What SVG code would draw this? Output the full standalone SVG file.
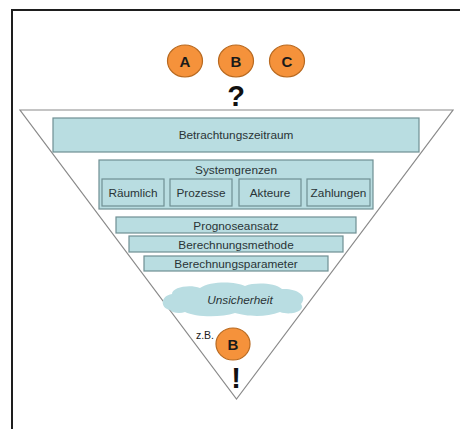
<svg xmlns="http://www.w3.org/2000/svg" width="460" height="429" viewBox="0 0 460 429">
  <style>
    text { font-family: "Liberation Sans", Arial, sans-serif; }
    .box { fill: #b9dde1; stroke: #6f8f93; stroke-width: 1.2; }
    .lbl { font-size: 11.8px; fill: #2a3436; text-anchor: middle; }
    .opt { fill: #f5923b; stroke: #b8691f; stroke-width: 1.2; }
    .opt-t { font-size: 15px; font-weight: bold; fill: #1a1a1a; text-anchor: middle; }
  </style>

  <rect x="0" y="0" width="460" height="429" fill="#ffffff"/>

  <!-- frame edges -->
  <path d="M12,429 L12,10 L460,10" fill="none" stroke="#1e1e1e" stroke-width="2"/>

  <!-- funnel -->
  <g id="funnel">
    <polygon points="20,110 453,110 236.5,399" fill="#ffffff" stroke="#8a8a8a" stroke-width="1.2"/>
  </g>

  <!-- candidate options -->
  <g id="option-a">
    <ellipse class="opt" cx="185" cy="61" rx="17.5" ry="16"/>
    <text class="opt-t" x="185" y="66.5">A</text>
  </g>
  <g id="option-b">
    <ellipse class="opt" cx="236" cy="61" rx="17.5" ry="16"/>
    <text class="opt-t" x="236" y="66.5">B</text>
  </g>
  <g id="option-c">
    <ellipse class="opt" cx="287" cy="61" rx="17.5" ry="16"/>
    <text class="opt-t" x="287" y="66.5">C</text>
  </g>
  <g id="question">
    <text x="236" y="106" font-size="29" font-weight="bold" fill="#111" text-anchor="middle">?</text>
  </g>

  <g id="betrachtungszeitraum">
    <rect class="box" x="53" y="118" width="366" height="34"/>
    <text class="lbl" x="236" y="139">Betrachtungszeitraum</text>
  </g>

  <g id="systemgrenzen">
    <rect class="box" x="99" y="160" width="274" height="49"/>
    <text class="lbl" x="236" y="173.5">Systemgrenzen</text>
    <g id="raeumlich">
      <rect class="box" x="102" y="179" width="62" height="27"/>
      <text class="lbl" x="133" y="196.5">Räumlich</text>
    </g>
    <g id="prozesse">
      <rect class="box" x="170" y="179" width="62" height="27"/>
      <text class="lbl" x="201" y="196.5">Prozesse</text>
    </g>
    <g id="akteure">
      <rect class="box" x="239" y="179" width="62" height="27"/>
      <text class="lbl" x="270" y="196.5">Akteure</text>
    </g>
    <g id="zahlungen">
      <rect class="box" x="307" y="179" width="63" height="27"/>
      <text class="lbl" x="338.5" y="196.5">Zahlungen</text>
    </g>
  </g>

  <g id="prognoseansatz">
    <rect class="box" x="116" y="217" width="240" height="16"/>
    <text class="lbl" x="236" y="229.5">Prognoseansatz</text>
  </g>
  <g id="berechnungsmethode">
    <rect class="box" x="129" y="236" width="214" height="16"/>
    <text class="lbl" x="236" y="248.5">Berechnungsmethode</text>
  </g>
  <g id="berechnungsparameter">
    <rect class="box" x="144" y="256" width="184" height="15"/>
    <text class="lbl" x="236" y="268">Berechnungsparameter</text>
  </g>

  <g id="unsicherheit">
    <path d="M170,310 C160,308 160,296 172,294 C172,287 190,284 200,288 C210,281 235,281 245,286 C255,282 275,283 282,289 C295,288 309,295 301,304 C306,311 291,316 280,312 C265,318 245,316 235,313 C220,318 195,317 185,312 C180,314 172,313 170,310 Z" fill="#b9dde2"/>
    <text x="240" y="304" font-size="11.8" font-style="italic" fill="#2a3436" text-anchor="middle">Unsicherheit</text>
  </g>

  <g id="result">
    <text x="205" y="339" font-size="10.5" fill="#222" text-anchor="middle">z.B.</text>
    <ellipse class="opt" cx="233" cy="344" rx="17" ry="16"/>
    <text class="opt-t" x="233" y="349.5">B</text>
    <text x="236" y="388" font-size="29" font-weight="bold" fill="#111" text-anchor="middle">!</text>
  </g>
</svg>
